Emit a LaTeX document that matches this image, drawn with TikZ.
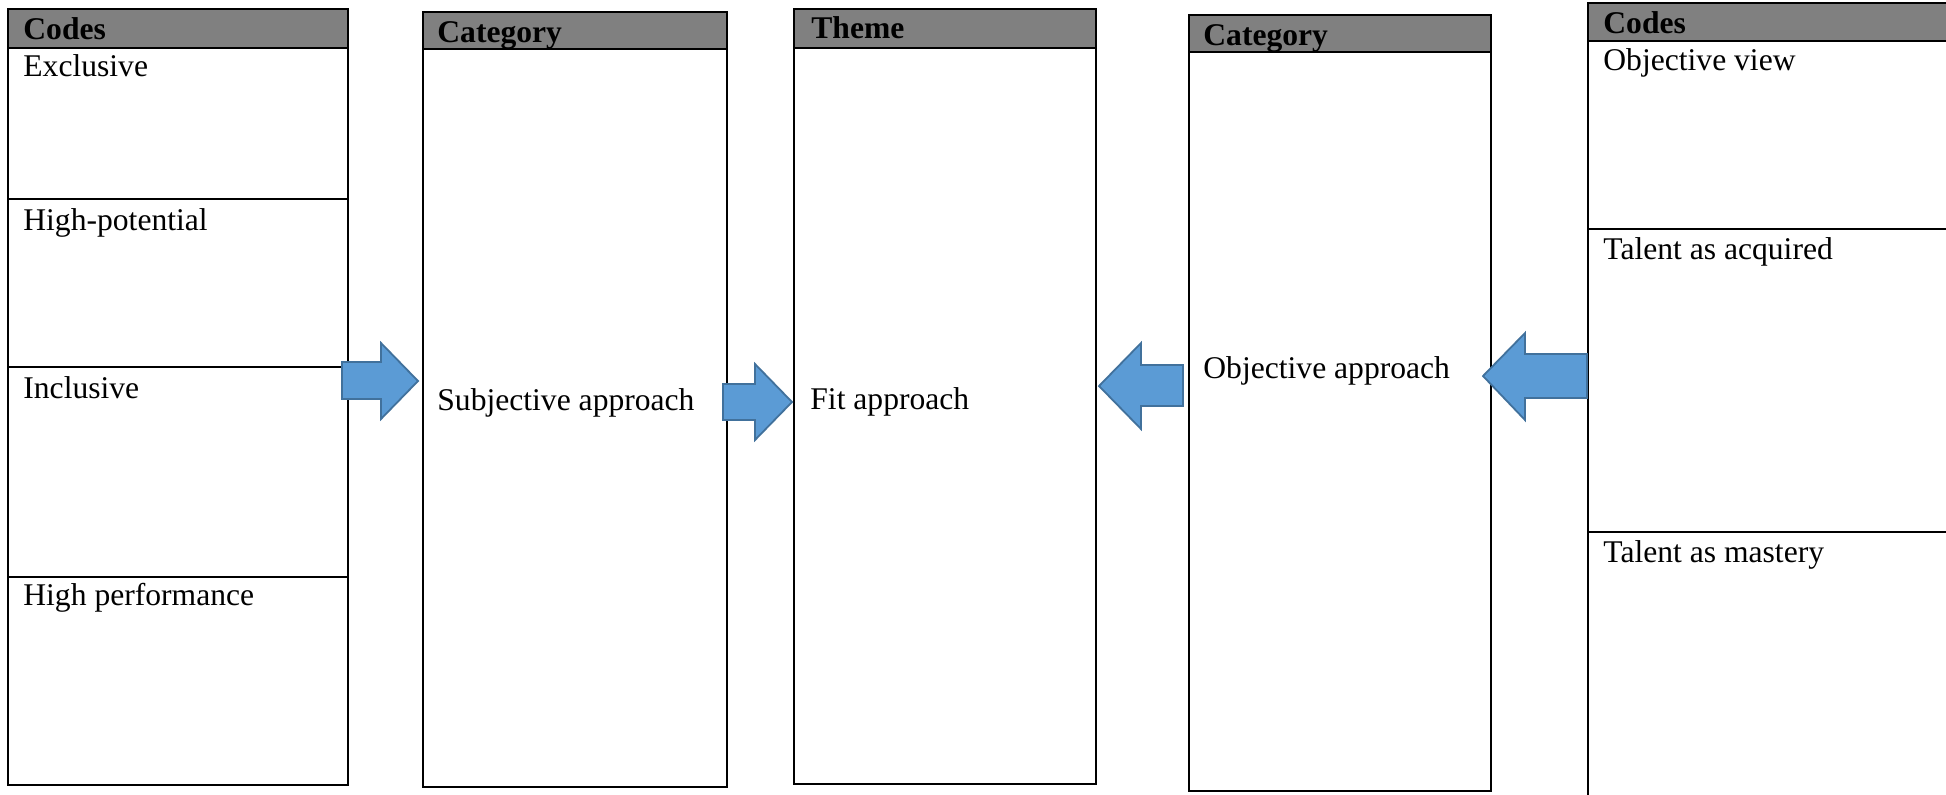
\documentclass[tikz,border=0pt]{standalone}
\usepackage{fontspec}
\setmainfont{Liberation Serif}
\definecolor{hdrgray}{HTML}{808080}
\definecolor{arrfill}{HTML}{5B9BD5}
\definecolor{arrdraw}{HTML}{41719C}
\begin{document}
\begin{tikzpicture}[x=0.5pt,y=-0.5pt,
  boxline/.style={draw=black,line width=1pt},
  hdr/.style={fill=hdrgray,draw=black,line width=1pt},
  txt/.style={anchor=base west,inner sep=0pt,font=\fontsize{15.8}{18}\selectfont},
  htxt/.style={anchor=base west,inner sep=0pt,font=\fontsize{15.8}{18}\selectfont\bfseries},
  blockarrow/.style={fill=arrfill,draw=arrdraw,line width=0.9pt,line join=miter}]
\useasboundingbox (0,0) rectangle (1946,794);
\clip (0,0) rectangle (1946,794);
% Box 1: Codes (left)
\draw[hdr] (7.5,9) rectangle (348,48);
\draw[boxline] (7.5,48) rectangle (348,785);
\draw[boxline] (7.5,199) -- (348,199);
\draw[boxline] (7.5,367) -- (348,367);
\draw[boxline] (7.5,577) -- (348,577);
\node[htxt] (c1h) at (23,39) {Codes};
\node[txt] (c1a) at (23,76) {Exclusive};
\node[txt] (c1b) at (23,230) {High-potential};
\node[txt] (c1c) at (23,398) {Inclusive};
\node[txt] (c1d) at (23,605) {High performance};
% Box 2: Category (left)
\draw[hdr] (423,12) rectangle (727,49);
\draw[boxline] (423,49) rectangle (727,787);
\node[htxt] (k1h) at (437,42) {Category};
\node[txt] (k1a) at (437,410) {Subjective approach};
% Box 3: Theme
\draw[hdr] (794,9) rectangle (1096,48);
\draw[boxline] (794,48) rectangle (1096,784);
\node[htxt] (th) at (811,38) {Theme};
\node[txt] (ta) at (810,409) {Fit approach};
% Box 4: Category (right)
\draw[hdr] (1189,15) rectangle (1491,52);
\draw[boxline] (1189,52) rectangle (1491,791);
\node[htxt] (k2h) at (1203,45) {Category};
\node[txt] (k2a) at (1203,378) {Objective approach};
% Box 5: Codes (right)
\draw[hdr] (1588,3) rectangle (2010,41);
\draw[boxline] (1588,41) rectangle (2010,860);
\draw[boxline] (1588,229) -- (2010,229);
\draw[boxline] (1588,532) -- (2010,532);
\node[htxt] (c2h) at (1603,33) {Codes};
\node[txt] (c2a) at (1603,70) {Objective view};
\node[txt] (c2b) at (1603,259) {Talent as acquired};
\node[txt] (c2c) at (1603,562) {Talent as mastery};
% Block arrows
\draw[blockarrow] (342,362) -- (381,362) -- (381,343) -- (418,381) -- (381,419) -- (381,399) -- (342,399) -- cycle;
\draw[blockarrow] (723,384) -- (755,384) -- (755,364) -- (792,402) -- (755,440) -- (755,420) -- (723,420) -- cycle;
\draw[blockarrow] (1183,365) -- (1141,365) -- (1141,343) -- (1099,386) -- (1141,429) -- (1141,406) -- (1183,406) -- cycle;
\draw[blockarrow] (1587,354) -- (1525,354) -- (1525,333) -- (1483,376) -- (1525,420) -- (1525,398) -- (1587,398) -- cycle;
\end{tikzpicture}
\end{document}
